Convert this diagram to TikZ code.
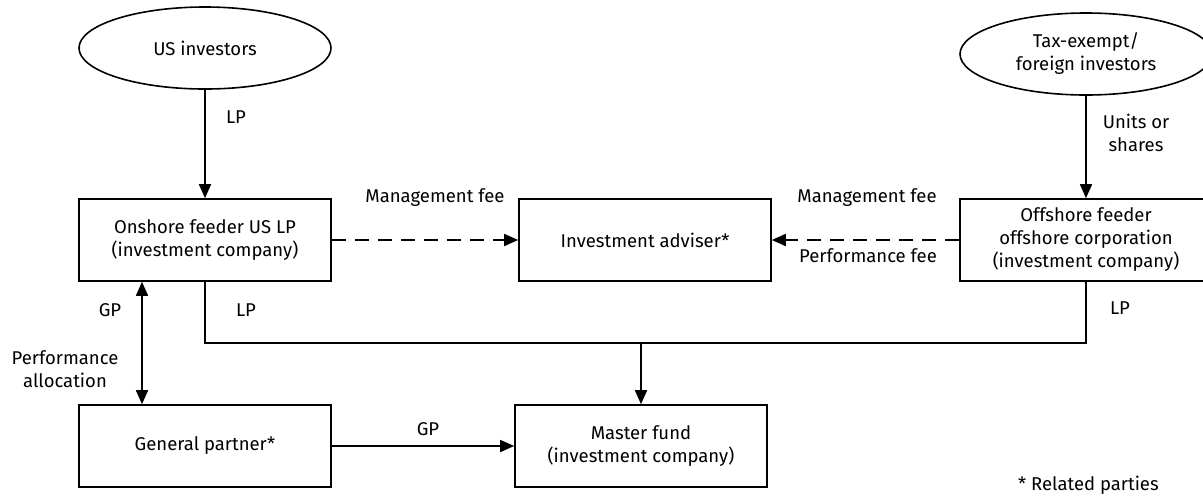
\documentclass[tikz,border=0pt]{standalone}
\usepackage{fontspec}
\setmainfont{Fira Sans}
\usetikzlibrary{arrows.meta,shapes.geometric}
\begin{document}
\begin{tikzpicture}[x=1pt,y=-1pt,
  every node/.style={font=\fontsize{18.5}{23}\selectfont, text=black},
  boxnode/.style={draw, line width=1.6pt, minimum width=252pt, minimum height=82pt, align=center, inner sep=0pt},
  ovalnode/.style={draw, ellipse, line width=1.6pt, minimum width=252pt, minimum height=82pt, align=center, inner sep=0pt},
  lbl/.style={align=center, inner sep=0pt},
  conn/.style={line width=1.6pt, -{Triangle[length=14pt,width=12pt]}},
  dconn/.style={conn, dash pattern=on 14pt off 9pt}
]
\useasboundingbox (0,0) rectangle (1203,496);
\fill[white] (0,0) rectangle (1203,496);

\node[ovalnode] (usinv) at (205,48) {US investors};
\node[ovalnode] (taxinv) at (1086,54) {Tax-exempt/\\foreign investors};
\node[boxnode] (onshore) at (205,240) {Onshore feeder US LP\\(investment company)};
\node[boxnode] (adviser) at (645,240) {Investment adviser*};
\node[boxnode] (offshore) at (1086,240) {Offshore feeder\\offshore corporation\\(investment company)};
\node[boxnode] (gp) at (205,446) {General partner*};
\node[boxnode] (master) at (641,446) {Master fund\\(investment company)};

\coordinate (jn) at (641,343);

\draw[conn] (usinv.south) -- (onshore.north);
\draw[conn] (taxinv.south) -- (offshore.north);
\draw[dconn] (onshore.east) -- (adviser.west);
\draw[dconn] (offshore.west) -- (adviser.east);
\draw[line width=1.6pt] (onshore.south) |- (jn) -| (offshore.south);
\draw[conn] (jn) -- (master.north);
\draw[line width=1.6pt, {Triangle[length=14pt,width=12pt]}-{Triangle[length=14pt,width=12pt]}] (onshore.south west -| 142,0) -- (gp.north west -| 142,0);
\draw[conn] (gp.east) -- (master.west);

\node[lbl] (l1) at (236,117) {LP};
\node[lbl] (l2) at (1136,133) {Units or\\shares};
\node[lbl] (l3) at (435,198) {Management fee};
\node[lbl] (l4) at (867,198) {Management fee};
\node[lbl] (l5) at (868,256) {Performance fee};
\node[lbl] (l6) at (110,310) {GP};
\node[lbl] (l7) at (246,310) {LP};
\node[lbl] (l8) at (1120,308) {LP};
\node[lbl] (l9) at (65,369) {Performance\\allocation};
\node[lbl] (l10) at (428,429) {GP};
\node[lbl, anchor=west] (l11) at (1018,485) {* Related parties};
\end{tikzpicture}
\end{document}
